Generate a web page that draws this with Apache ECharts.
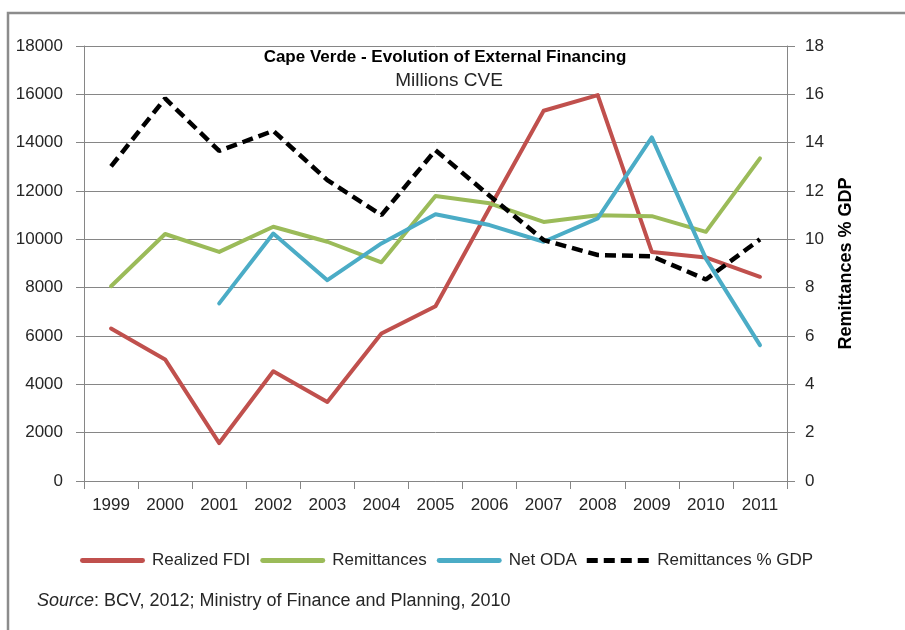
<!DOCTYPE html>
<html>
<head>
<meta charset="utf-8">
<script src="https://cdn.jsdelivr.net/npm/echarts@6/dist/echarts.min.js"></script>
<style>
  html, body { margin: 0; padding: 0; background: #fff; }
  #chart { width: 905px; height: 630px; }
</style>
</head>
<body>
<div id="chart"></div>
<script>
// values
const years = ['1999', '2000', '2001', '2002', '2003', '2004', '2005', '2006', '2007', '2008', '2009', '2010', '2011'];
const realizedFdi = [6310, 5030, 1570, 4540, 3270, 6100, 7230, 11300, 15320, 15970, 9480, 9250, 8450];
const remittances = [8060, 10220, 9480, 10520, 9900, 9050, 11790, 11490, 10720, 11000, 10960, 10310, 13350];
const netOda = [null, null, 7350, 10240, 8310, 9830, 11040, 10590, 9900, 10870, 14220, 9200, 5620];
const remittancesGdp = [13.02, 15.83, 13.66, 14.49, 12.45, 11.0, 13.69, 11.8, 9.97, 9.35, 9.3, 8.34, 10.0];

const font = 'Liberation Sans';
const axisGrey = '#868686';
const textColor = '#262626';

// legend icons: a plain bar for solid lines, four dashes for the dashed one
const solidIcon = 'path://M2,0h61a2,2 0 0 1 0,5h-61a2,2 0 0 1 0,-5z';
const dashIcon = 'path://M0,0h11v5h-11z M17,0h11v5h-11z M34,0h11v5h-11z M51,0h11v5h-11z';

const chart = echarts.init(document.getElementById('chart'));

const option = {
  animation: false,
  textStyle: { fontFamily: font },
  grid: { left: 84, right: 118, top: 46, bottom: 149, containLabel: false },
  graphic: [
    {
      type: 'rect',
      shape: { x: 8, y: 13, width: 1000, height: 700 },
      style: { fill: 'none', stroke: '#8c8c8c', lineWidth: 2.5 },
      silent: true
    },
    {
      type: 'text',
      x: 445, y: 57,
      style: {
        text: 'Cape Verde - Evolution of External Financing',
        font: 'bold 17px "Liberation Sans"',
        fill: '#000',
        align: 'center', verticalAlign: 'middle'
      }
    },
    {
      type: 'text',
      x: 449, y: 81,
      style: {
        text: 'Millions CVE',
        font: '19px "Liberation Sans"',
        fill: textColor,
        align: 'center', verticalAlign: 'middle'
      }
    },
    {
      type: 'text',
      x: 37, y: 601,
      style: {
        text: '{i|Source}: BCV, 2012; Ministry of Finance and Planning, 2010',
        font: '18px "Liberation Sans"',
        fill: textColor,
        verticalAlign: 'middle',
        rich: {
          i: { fontStyle: 'italic', fontSize: 18, fontFamily: font, fill: textColor }
        }
      }
    }
  ],
  legend: {
    left: 75,
    top: 547,
    itemWidth: 65,
    itemHeight: 5,
    itemGap: 10,
    textStyle: { fontSize: 17, color: textColor, fontFamily: font, padding: [0, 0, 0, 2] },
    data: [
      { name: 'Realized FDI', icon: solidIcon },
      { name: 'Remittances', icon: solidIcon },
      { name: 'Net ODA', icon: solidIcon },
      { name: 'Remittances % GDP', icon: dashIcon }
    ]
  },
  xAxis: {
    type: 'category',
    data: years,
    boundaryGap: true,
    axisLine: { lineStyle: { color: axisGrey, width: 1 } },
    axisTick: { show: true, length: 8, lineStyle: { color: axisGrey } },
    axisLabel: { fontSize: 17, color: textColor, margin: 16 }
  },
  yAxis: [
    {
      type: 'value',
      min: 0, max: 18000, interval: 2000,
      position: 'left',
      axisLine: { show: true, lineStyle: { color: axisGrey, width: 1 } },
      axisTick: { show: true, length: 8, lineStyle: { color: axisGrey } },
      axisLabel: { fontSize: 17, color: textColor, margin: 21, formatter: v => String(v) },
      splitLine: { show: true, lineStyle: { color: axisGrey, width: 1 } }
    },
    {
      type: 'value',
      min: 0, max: 18, interval: 2,
      position: 'right',
      name: 'Remittances % GDP',
      nameLocation: 'middle',
      nameRotate: 90,
      nameGap: 50,
      nameTextStyle: { fontSize: 18, fontWeight: 'bold', color: '#000', fontFamily: font },
      axisLine: { show: true, lineStyle: { color: axisGrey, width: 1 } },
      axisTick: { show: true, length: 8, lineStyle: { color: axisGrey } },
      axisLabel: { fontSize: 17, color: textColor, margin: 18 },
      splitLine: { show: false }
    }
  ],
  series: [
    {
      name: 'Realized FDI',
      type: 'line',
      data: realizedFdi,
      symbol: 'none',
      color: '#C0504D',
      lineStyle: { width: 4, color: '#C0504D', cap: 'round', join: 'round' }
    },
    {
      name: 'Remittances',
      type: 'line',
      data: remittances,
      symbol: 'none',
      color: '#9BBB59',
      lineStyle: { width: 4, color: '#9BBB59', cap: 'round', join: 'round' }
    },
    {
      name: 'Net ODA',
      type: 'line',
      data: netOda,
      symbol: 'none',
      color: '#4BACC6',
      lineStyle: { width: 4, color: '#4BACC6', cap: 'round', join: 'round' }
    },
    {
      name: 'Remittances % GDP',
      type: 'line',
      yAxisIndex: 1,
      data: remittancesGdp,
      symbol: 'none',
      color: '#000',
      lineStyle: { width: 4.5, color: '#000', type: [11, 6], cap: 'butt' }
    }
  ]
};

chart.setOption(option);
</script>
</body>
</html>
